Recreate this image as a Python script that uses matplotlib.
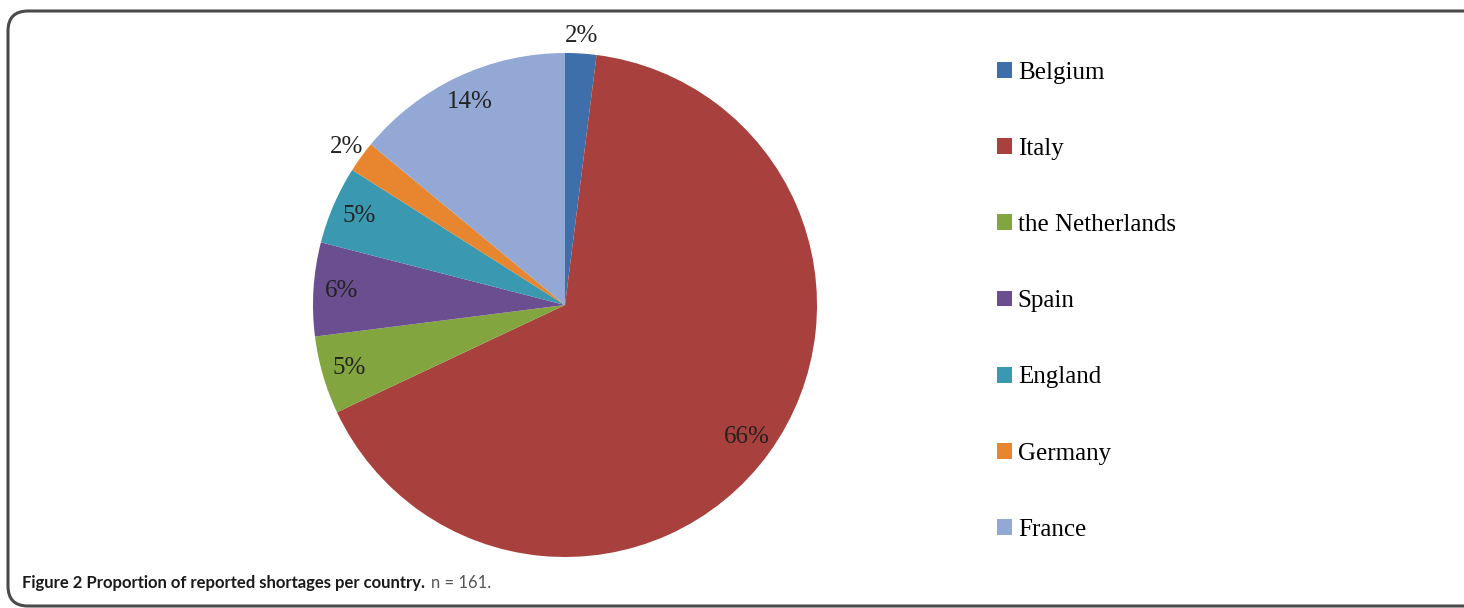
import numpy as np
import matplotlib
matplotlib.use("Agg")
import matplotlib.pyplot as plt
from matplotlib.patches import FancyBboxPatch

countries = ["Belgium", "Italy", "the Netherlands", "Spain", "England", "Germany", "France"]
shares = [2, 66, 5, 6, 5, 2, 14]
colors = ["#3F6FAA", "#A8403D", "#82A540", "#6A4E90", "#3A99B0", "#E8852F", "#93A8D4"]

W, H = 1464, 608
fig = plt.figure(figsize=(W / 100, H / 100), dpi=100)

# rounded frame around the whole figure
frame = FancyBboxPatch((8 / 100, 2 / 100), 1480 / 100, 595 / 100,
                       boxstyle="round,pad=0,rounding_size=0.2",
                       transform=fig.dpi_scale_trans, fill=False,
                       edgecolor="#4a4a4a", linewidth=2.2, clip_on=False)
fig.patches.append(frame)

cx, cy, r = 565, 305, 252
ax = fig.add_axes([(cx - r) / W, (H - cy - r) / H, 2 * r / W, 2 * r / H])
wedges, _ = ax.pie(shares, colors=colors, startangle=90, counterclock=False,
                   radius=1, wedgeprops=dict(linewidth=0))
ax.set_xlim(-1, 1)
ax.set_ylim(-1, 1)
ax.set_aspect("equal")
ax.axis("off")

serif = "Liberation Serif"
for w, v in zip(wedges, shares):
    mid = np.deg2rad((w.theta1 + w.theta2) / 2)
    dist = 1.07 if v < 3 else 0.89
    ax.text(dist * np.cos(mid), dist * np.sin(mid), f"{v}%",
            ha="center", va="center", fontsize=18, family=serif,
            color="#222222", clip_on=False)

fig.legend(wedges, countries, loc="upper left", bbox_to_anchor=(984 / W, 1 - 49 / H),
           frameon=False, borderpad=0, handlelength=0.6, handleheight=0.6,
           handletextpad=0.25, labelspacing=2.17, prop=dict(family=serif, size=18))

# caption: bold title followed by the sample size
cap = fig.text(22 / W, 1 - 583 / H, "Figure 2 Proportion of reported shortages per country.",
               fontsize=12, fontweight="bold", family="Lato", color="#1a1a1a",
               va="center", ha="left")
fig.canvas.draw()
bb = cap.get_window_extent()
fig.text((bb.x1 + 6) / W, 1 - 583 / H, "n = 161.", fontsize=12, family="Lato",
         color="#555555", va="center", ha="left")

fig.savefig("out.png", dpi=100, facecolor="white")
